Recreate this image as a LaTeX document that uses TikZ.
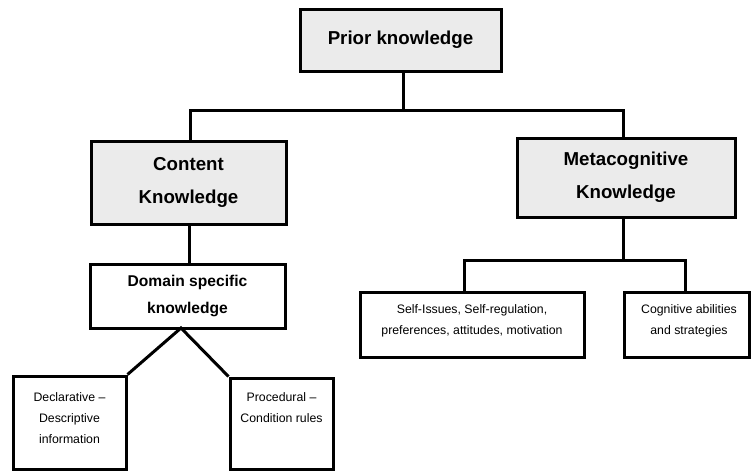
\documentclass[tikz,border=0pt]{standalone}
\usepackage{fontspec}
\setmainfont{Liberation Sans}
\definecolor{boxgray}{HTML}{EBEBEB}
\tikzset{
  ln/.style={line width=3pt, line cap=rect},
  bigbox/.style={draw, line width=3pt, fill=boxgray, inner sep=0pt, anchor=center},
  plainbox/.style={draw, line width=3pt, fill=white, inner sep=0pt, anchor=center},
  bigtxt/.style={font=\fontsize{18.7}{33}\selectfont\bfseries, align=center},
  midtxt/.style={font=\fontsize{15.6}{27}\selectfont\bfseries, align=center},
  smalltxt/.style={inner sep=0pt, font=\fontsize{12.3}{21}\selectfont, align=center, anchor=center},
}
\begin{document}
\begin{tikzpicture}[x=1pt, y=-1pt]
\useasboundingbox (0,0) rectangle (751,471);
% boxes
\node[bigbox, minimum width=201pt, minimum height=62pt, bigtxt] (prior) at (400.5,40) {Prior knowledge};
\node[bigbox, minimum width=195pt, minimum height=83pt, bigtxt] (content) at (188.5,182.5) {Content\\Knowledge};
\node[bigbox, minimum width=218pt, minimum height=79pt, bigtxt] (meta) at (626,177.5) {Metacognitive\\Knowledge};
\node[plainbox, minimum width=195pt, minimum height=64pt, midtxt] (domain) at (187.5,296) {Domain specific\\knowledge};
\node[plainbox, minimum width=113pt, minimum height=93pt] (decl) at (69.5,422.5) {};
\node[plainbox, minimum width=103pt, minimum height=91pt] (proc) at (281.5,423.5) {};
\node[plainbox, minimum width=224pt, minimum height=65pt] (self) at (472,324.5) {};
\node[plainbox, minimum width=125.5pt, minimum height=65pt] (cog) at (686.75,324.5) {};
% texts
\node[smalltxt] (decltxt) at (69.5,418) {Declarative –\\Descriptive\\information};
\node[smalltxt] (proctxt) at (281.5,408) {Procedural –\\Condition rules};
\node[smalltxt] (selftxt) at (472,320.5) {Self-Issues, Self-regulation,\\preferences, attitudes, motivation};
\node[smalltxt] (cogtxt) at (689,320.5) {Cognitive abilities\\and strategies};
% junction coordinates
\coordinate (j1) at (403,110);
\coordinate (j1l) at (190,110);
\coordinate (j1r) at (623,110);
\coordinate (apex) at (181,328);
\coordinate (j2) at (623,260);
\coordinate (j2l) at (464,260);
\coordinate (j2r) at (685,260);
% connectors
\draw[ln] (prior.south -| j1) -- (j1);
\draw[ln] (j1l) -- (j1r);
\draw[ln] (j1l) -- (content.north -| j1l);
\draw[ln] (j1r) -- (meta.north -| j1r);
\draw[ln] (content.south -| 189,0) -- (domain.north -| 189,0);
\draw[ln, line cap=butt, line join=miter] (decl.north east) -- (apex) -- (proc.north west);
\draw[ln] (meta.south -| j2) -- (j2);
\draw[ln] (j2l) -- (j2r);
\draw[ln] (j2l) -- (self.north -| j2l);
\draw[ln] (j2r) -- (cog.north -| j2r);
\end{tikzpicture}
\end{document}
